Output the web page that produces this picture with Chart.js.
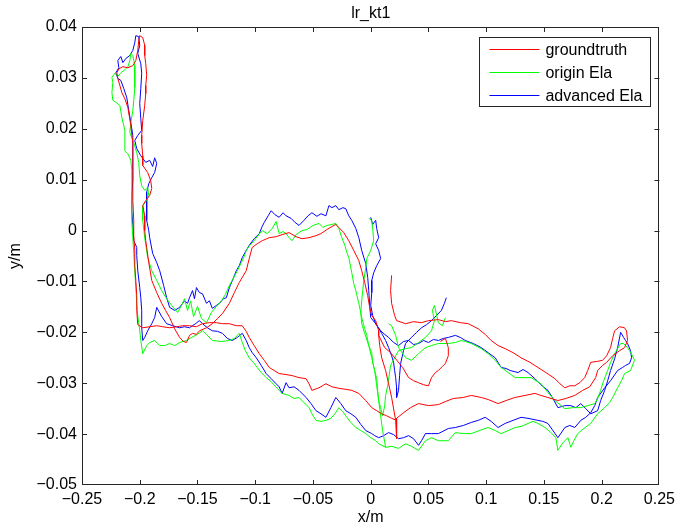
<!DOCTYPE html>
<html><head><meta charset="utf-8">
<script src="https://cdn.jsdelivr.net/npm/chart.js@4/dist/chart.umd.min.js"></script>
<style>html,body{margin:0;padding:0;background:#fff}#wrap{width:680px;height:530px;position:relative}</style>
</head><body><div id="wrap"><canvas id="c" width="680" height="530"></canvas></div>
<script>
const chartTitle = 'lr_kt1';
const xTitle = 'x/m';
const yTitle = 'y/m';
const seriesNames = ['groundtruth', 'origin Ela', 'advanced Ela'];
const seriesColors = ['#ff0000', '#00ff00', '#0000ff'];
const xTicks = [-0.25, -0.2, -0.15, -0.1, -0.05, 0, 0.05, 0.1, 0.15, 0.2, 0.25];
const xTickLabels = ['\u22120.25', '\u22120.2', '\u22120.15', '\u22120.1', '\u22120.05', '0', '0.05', '0.1', '0.15', '0.2', '0.25'];
const yTicks = [-0.05, -0.04, -0.03, -0.02, -0.01, 0, 0.01, 0.02, 0.03, 0.04];
const yTickLabels = ['\u22120.05', '\u22120.04', '\u22120.03', '\u22120.02', '\u22120.01', '0', '0.01', '0.02', '0.03', '0.04'];

// [x, y] pairs in metres; null = pen lifted
const groundtruth = [
[0.0181,-0.0088],[0.0172,-0.0118],[0.0181,-0.0143],[0.0207,-0.0167],[0.0224,-0.0177],[0.0302,-0.0183],[0.0371,-0.0179],[0.0440,-0.0181],[0.0500,-0.0177],[0.0586,-0.0175],[0.0647,-0.0179],[0.0698,-0.0177],[0.0776,-0.0181],[0.0845,-0.0183],[0.0896,-0.0189],[0.0931,-0.0193],[0.0991,-0.0204],[0.1043,-0.0216],[0.1103,-0.0226],[0.1164,-0.0232],[0.1233,-0.0240],[0.1302,-0.0250],[0.1379,-0.0259],[0.1448,-0.0269],[0.1517,-0.0279],[0.1595,-0.0291],[0.1638,-0.0301],[0.1681,-0.0309],[0.1724,-0.0305],[0.1767,-0.0305],[0.1810,-0.0299],[0.1853,-0.0289],[0.1879,-0.0275],[0.1905,-0.0259],[0.1965,-0.0257],[0.2008,-0.0255],[0.2043,-0.0246],[0.2077,-0.0230],[0.2095,-0.0212],[0.2112,-0.0197],[0.2155,-0.0189],[0.2198,-0.0191],[0.2215,-0.0197],[0.2224,-0.0216],[0.2198,-0.0230],[0.2155,-0.0236],[0.2095,-0.0246],[0.2043,-0.0259],[0.2008,-0.0265],[0.1965,-0.0275],[0.1948,-0.0289],[0.1896,-0.0307],[0.1836,-0.0314],[0.1767,-0.0324],[0.1690,-0.0330],[0.1621,-0.0334],[0.1534,-0.0328],[0.1474,-0.0324],[0.1422,-0.0320],[0.1336,-0.0324],[0.1250,-0.0328],[0.1172,-0.0334],[0.1103,-0.0340],[0.1017,-0.0332],[0.0957,-0.0328],[0.0871,-0.0324],[0.0802,-0.0328],[0.0715,-0.0330],[0.0647,-0.0336],[0.0586,-0.0342],[0.0500,-0.0344],[0.0414,-0.0340],[0.0345,-0.0348],[0.0284,-0.0358],[0.0224,-0.0369],[0.0224,-0.0409],[0.0216,-0.0373],[0.0181,-0.0328],[0.0155,-0.0301],[0.0129,-0.0275],[0.0095,-0.0250],[0.0078,-0.0226],[0.0069,-0.0206],[0.0121,-0.0230],[0.0172,-0.0240],[0.0216,-0.0252],[0.0276,-0.0269],[0.0328,-0.0289],[0.0371,-0.0295],[0.0414,-0.0299],[0.0457,-0.0303],[0.0500,-0.0305],[0.0526,-0.0289],[0.0560,-0.0279],[0.0586,-0.0275],[0.0621,-0.0267],[0.0647,-0.0261],[0.0672,-0.0246],[0.0672,-0.0230],[0.0647,-0.0212],[0.0603,-0.0218],
null,
[0.0224,-0.0373],[0.0181,-0.0369],[0.0138,-0.0364],[0.0095,-0.0360],[0.0052,-0.0354],[0.0009,-0.0348],[-0.0043,-0.0334],[-0.0103,-0.0320],[-0.0164,-0.0314],[-0.0216,-0.0312],[-0.0276,-0.0310],[-0.0336,-0.0307],[-0.0388,-0.0301],[-0.0448,-0.0309],[-0.0509,-0.0314],[-0.0534,-0.0301],[-0.0560,-0.0291],[-0.0621,-0.0289],[-0.0681,-0.0285],[-0.0733,-0.0283],[-0.0793,-0.0281],[-0.0836,-0.0275],[-0.0879,-0.0269],[-0.0922,-0.0255],[-0.0965,-0.0242],[-0.1009,-0.0226],[-0.1052,-0.0210],[-0.1078,-0.0198],[-0.1112,-0.0187],[-0.1164,-0.0187],[-0.1224,-0.0183],[-0.1284,-0.0183],[-0.1336,-0.0181],[-0.1396,-0.0181],[-0.1457,-0.0183],[-0.1509,-0.0189],[-0.1569,-0.0187],[-0.1629,-0.0187],[-0.1681,-0.0189],[-0.1741,-0.0191],[-0.1801,-0.0189],[-0.1853,-0.0187],[-0.1914,-0.0189],[-0.1974,-0.0191],[-0.2017,-0.0185],[-0.2026,-0.0157],[-0.2026,-0.0128],[-0.2034,-0.0098],[-0.2043,-0.0069],[-0.2043,-0.0039],[-0.2052,-0.0010],[-0.2052,0.0020],[-0.2060,0.0059],[-0.2060,0.0098],[-0.2060,0.0138],[-0.2060,0.0171],[-0.2077,0.0206],[-0.2103,0.0242],[-0.2129,0.0259],[-0.2155,0.0271],[-0.2172,0.0285],[-0.2190,0.0299],[-0.2198,0.0310],[-0.2181,0.0318],[-0.2146,0.0322],[-0.2103,0.0320],[-0.2060,0.0324],[-0.2034,0.0334],[-0.2017,0.0354],[-0.2009,0.0373],[-0.2000,0.0383],[-0.1974,0.0379],[-0.1957,0.0364],[-0.1957,0.0344],[-0.1948,0.0328],[-0.1940,0.0305],[-0.1948,0.0285],[-0.1948,0.0269],[-0.1957,0.0246],[-0.1974,0.0216],[-0.1983,0.0187],[-0.1983,0.0171],[-0.1974,0.0147],[-0.1974,0.0128],[-0.1931,0.0114],[-0.1905,0.0098],[-0.1896,0.0083],[-0.1914,0.0069],[-0.1948,0.0059],[-0.1974,0.0049],[-0.1957,0.0029],[-0.1957,0.0000],[-0.1948,-0.0020],[-0.1940,-0.0033],[-0.1922,-0.0063],[-0.1896,-0.0098],[-0.1853,-0.0122],[-0.1810,-0.0143],[-0.1776,-0.0157],[-0.1741,-0.0171],[-0.1698,-0.0193],[-0.1655,-0.0210],[-0.1621,-0.0218],[-0.1595,-0.0220],[-0.1569,-0.0206],[-0.1543,-0.0202],[-0.1509,-0.0204],[-0.1483,-0.0197],[-0.1422,-0.0191],[-0.1371,-0.0183],[-0.1327,-0.0173],[-0.1284,-0.0163],[-0.1224,-0.0143],[-0.1181,-0.0122],[-0.1138,-0.0102],[-0.1078,-0.0079],[-0.1052,-0.0055],[-0.1026,-0.0033],[-0.0983,-0.0026],[-0.0940,-0.0020],[-0.0879,-0.0014],[-0.0819,-0.0012],[-0.0767,-0.0008],[-0.0707,-0.0004],[-0.0647,-0.0012],[-0.0595,-0.0016],[-0.0534,-0.0014],[-0.0474,-0.0010],[-0.0431,-0.0006],[-0.0379,0.0002],[-0.0336,0.0008],[-0.0302,0.0012],[-0.0276,0.0006],[-0.0233,-0.0004],[-0.0190,-0.0020],[-0.0147,-0.0039],[-0.0103,-0.0059],[-0.0078,-0.0079],[-0.0052,-0.0102],[-0.0026,-0.0128],[-0.0009,-0.0151],[0.0009,-0.0167],[0.0043,-0.0177],[0.0069,-0.0197],[0.0069,-0.0206]
];

const originEla = [
[-0.0017,0.0024],[0.0009,0.0020],[0.0017,0.0004],[0.0026,-0.0020],[0.0000,-0.0039],[-0.0034,-0.0055],[-0.0043,-0.0073],[-0.0060,-0.0098],[-0.0069,-0.0118],[-0.0078,-0.0138],[-0.0086,-0.0161],[-0.0078,-0.0183],[-0.0052,-0.0202],[-0.0017,-0.0226],[0.0009,-0.0250],[0.0034,-0.0275],[0.0052,-0.0305],[0.0069,-0.0334],[0.0086,-0.0364],[0.0103,-0.0393],[0.0129,-0.0426],[0.0181,-0.0424],[0.0241,-0.0428],[0.0302,-0.0419],[0.0353,-0.0424],[0.0414,-0.0432],[0.0474,-0.0413],[0.0526,-0.0407],[0.0586,-0.0413],[0.0672,-0.0413],[0.0733,-0.0397],[0.0802,-0.0399],[0.0871,-0.0399],[0.0940,-0.0393],[0.1017,-0.0387],[0.1078,-0.0393],[0.1129,-0.0399],[0.1190,-0.0393],[0.1250,-0.0387],[0.1302,-0.0385],[0.1362,-0.0379],[0.1405,-0.0375],[0.1448,-0.0379],[0.1509,-0.0387],[0.1560,-0.0397],[0.1603,-0.0407],[0.1621,-0.0432],[0.1664,-0.0417],[0.1707,-0.0407],[0.1733,-0.0426],[0.1759,-0.0413],[0.1793,-0.0399],[0.1845,-0.0389],[0.1905,-0.0379],[0.1965,-0.0360],[0.2026,-0.0348],[0.2069,-0.0338],[0.2095,-0.0328],[0.2138,-0.0309],[0.2172,-0.0295],[0.2198,-0.0281],[0.2250,-0.0275],[0.2284,-0.0255],[0.2267,-0.0246],[0.2241,-0.0236],[0.2224,-0.0230],[0.2190,-0.0222],[0.2164,-0.0222],[0.2138,-0.0232],[0.2112,-0.0242],[0.2077,-0.0259],[0.2052,-0.0275],[0.2017,-0.0295],[0.1991,-0.0314],[0.1965,-0.0330],[0.1940,-0.0340],[0.1879,-0.0344],[0.1819,-0.0348],[0.1750,-0.0348],[0.1681,-0.0350],[0.1638,-0.0342],[0.1595,-0.0334],[0.1534,-0.0318],[0.1474,-0.0301],[0.1431,-0.0295],[0.1388,-0.0289],[0.1319,-0.0289],[0.1250,-0.0289],[0.1190,-0.0279],[0.1129,-0.0269],[0.1078,-0.0255],[0.1017,-0.0242],[0.0957,-0.0232],[0.0905,-0.0226],[0.0871,-0.0222],[0.0819,-0.0218],[0.0784,-0.0216],[0.0733,-0.0220],[0.0672,-0.0222],[0.0586,-0.0222],[0.0526,-0.0226],[0.0474,-0.0230],[0.0414,-0.0242],[0.0353,-0.0255],[0.0302,-0.0250],[0.0241,-0.0230],[0.0216,-0.0206],[0.0181,-0.0187],[0.0155,-0.0183],
null,
[0.0129,-0.0426],[0.0069,-0.0419],[0.0043,-0.0413],[0.0000,-0.0407],[-0.0043,-0.0399],[-0.0086,-0.0393],[-0.0129,-0.0387],[-0.0172,-0.0377],[-0.0207,-0.0367],[-0.0241,-0.0356],[-0.0276,-0.0348],[-0.0310,-0.0360],[-0.0345,-0.0369],[-0.0388,-0.0373],[-0.0431,-0.0375],[-0.0474,-0.0373],[-0.0509,-0.0360],[-0.0534,-0.0348],[-0.0578,-0.0338],[-0.0621,-0.0328],[-0.0664,-0.0330],[-0.0707,-0.0324],[-0.0767,-0.0320],[-0.0810,-0.0310],[-0.0862,-0.0297],[-0.0905,-0.0289],[-0.0948,-0.0279],[-0.0983,-0.0269],[-0.1017,-0.0259],[-0.1052,-0.0250],[-0.1086,-0.0236],[-0.1112,-0.0220],[-0.1138,-0.0202],[-0.1181,-0.0212],[-0.1224,-0.0216],[-0.1293,-0.0218],[-0.1371,-0.0216],[-0.1422,-0.0204],[-0.1457,-0.0197],[-0.1500,-0.0204],[-0.1552,-0.0210],[-0.1595,-0.0216],[-0.1655,-0.0220],[-0.1698,-0.0226],[-0.1741,-0.0222],[-0.1784,-0.0226],[-0.1827,-0.0226],[-0.1871,-0.0216],[-0.1914,-0.0220],[-0.1940,-0.0226],[-0.1974,-0.0242],[-0.1991,-0.0216],[-0.2000,-0.0197],[-0.2017,-0.0167],[-0.2026,-0.0143],[-0.2034,-0.0112],[-0.2043,-0.0079],[-0.2052,-0.0045],[-0.2060,-0.0014],[-0.2069,0.0020],[-0.2069,0.0053],[-0.2069,0.0088],[-0.2069,0.0118],[-0.2077,0.0138],[-0.2103,0.0151],[-0.2129,0.0157],[-0.2129,0.0177],[-0.2129,0.0197],[-0.2155,0.0222],[-0.2172,0.0246],[-0.2207,0.0252],[-0.2233,0.0256],[-0.2241,0.0271],[-0.2233,0.0291],[-0.2241,0.0301],[-0.2215,0.0309],[-0.2190,0.0303],[-0.2164,0.0310],[-0.2129,0.0316],[-0.2103,0.0322],[-0.2086,0.0334],[-0.2077,0.0348],[-0.2060,0.0344],[-0.2043,0.0324],[-0.2043,0.0305],[-0.2043,0.0281],[-0.2052,0.0255],[-0.2060,0.0236],[-0.2077,0.0212],[-0.2086,0.0193],[-0.2052,0.0173],[-0.2026,0.0153],[-0.2009,0.0134],[-0.2000,0.0108],[-0.1983,0.0088],[-0.1957,0.0079],[-0.1931,0.0084],[-0.1922,0.0069],[-0.1940,0.0059],[-0.1974,0.0049],[-0.1974,0.0020],[-0.1957,-0.0014],[-0.1931,-0.0053],[-0.1896,-0.0079],[-0.1853,-0.0098],[-0.1810,-0.0118],[-0.1767,-0.0134],[-0.1724,-0.0147],[-0.1672,-0.0161],[-0.1638,-0.0147],[-0.1612,-0.0134],[-0.1586,-0.0157],[-0.1560,-0.0138],[-0.1534,-0.0169],[-0.1500,-0.0149],[-0.1465,-0.0173],[-0.1422,-0.0181],[-0.1379,-0.0161],[-0.1336,-0.0149],[-0.1293,-0.0138],[-0.1259,-0.0126],[-0.1224,-0.0108],[-0.1190,-0.0094],[-0.1155,-0.0079],[-0.1121,-0.0063],[-0.1095,-0.0051],[-0.1078,-0.0039],[-0.1043,-0.0028],[-0.1009,-0.0020],[-0.0983,-0.0012],[-0.0940,0.0000],[-0.0896,-0.0006],[-0.0853,0.0004],[-0.0819,0.0018],[-0.0793,-0.0006],[-0.0759,-0.0002],[-0.0733,-0.0006],[-0.0707,-0.0014],[-0.0681,-0.0020],[-0.0647,-0.0008],[-0.0595,0.0000],[-0.0552,0.0002],[-0.0500,0.0010],[-0.0448,0.0014],[-0.0414,0.0006],[-0.0379,0.0010],[-0.0336,0.0012],[-0.0302,0.0014],[-0.0276,0.0004],[-0.0250,-0.0014],[-0.0224,-0.0029],[-0.0207,-0.0043],[-0.0190,-0.0053],[-0.0164,-0.0083],[-0.0147,-0.0104],[-0.0129,-0.0118],[-0.0103,-0.0143],[-0.0078,-0.0171],[-0.0052,-0.0193],[-0.0034,-0.0206],[-0.0017,-0.0226],[0.0009,-0.0240],[0.0017,-0.0259],[0.0034,-0.0275],[0.0052,-0.0291],[0.0060,-0.0314],[0.0069,-0.0334],[0.0086,-0.0348],[0.0103,-0.0364],[0.0121,-0.0344],[0.0129,-0.0324],[0.0147,-0.0305],[0.0172,-0.0265],[0.0207,-0.0250],[0.0241,-0.0236],[0.0302,-0.0232],[0.0353,-0.0230],[0.0414,-0.0220],[0.0474,-0.0210],[0.0526,-0.0197],[0.0552,-0.0177],[0.0534,-0.0157],[0.0552,-0.0147],[0.0586,-0.0181],[0.0621,-0.0187],[0.0647,-0.0171]
];

const advancedEla = [
[0.0000,0.0026],[0.0017,0.0012],[0.0043,0.0020],[0.0052,0.0004],[0.0069,-0.0014],[0.0043,-0.0026],[0.0069,-0.0039],[0.0086,-0.0055],[0.0052,-0.0069],[0.0026,-0.0083],[0.0009,-0.0098],[0.0009,-0.0122],[0.0000,-0.0147],[0.0017,-0.0167],[0.0043,-0.0183],[0.0086,-0.0197],[0.0121,-0.0204],[0.0155,-0.0210],[0.0198,-0.0220],[0.0241,-0.0226],[0.0284,-0.0218],[0.0328,-0.0216],[0.0371,-0.0224],[0.0414,-0.0222],[0.0457,-0.0216],[0.0500,-0.0220],[0.0543,-0.0214],[0.0586,-0.0216],[0.0629,-0.0212],[0.0672,-0.0210],[0.0733,-0.0206],[0.0776,-0.0210],[0.0819,-0.0216],[0.0888,-0.0222],[0.0957,-0.0230],[0.1017,-0.0240],[0.1078,-0.0250],[0.1129,-0.0269],[0.1172,-0.0271],[0.1207,-0.0275],[0.1276,-0.0279],[0.1319,-0.0273],[0.1362,-0.0279],[0.1422,-0.0291],[0.1474,-0.0303],[0.1534,-0.0314],[0.1578,-0.0330],[0.1621,-0.0348],[0.1681,-0.0344],[0.1733,-0.0344],[0.1776,-0.0348],[0.1819,-0.0340],[0.1862,-0.0350],[0.1905,-0.0360],[0.1965,-0.0354],[0.1991,-0.0334],[0.2026,-0.0314],[0.2052,-0.0295],[0.2077,-0.0275],[0.2112,-0.0252],[0.2138,-0.0230],[0.2164,-0.0200],[0.2190,-0.0210],[0.2207,-0.0216],[0.2224,-0.0222],[0.2250,-0.0236],[0.2259,-0.0250],[0.2241,-0.0261],[0.2207,-0.0265],[0.2181,-0.0269],[0.2138,-0.0275],[0.2077,-0.0295],[0.2026,-0.0309],[0.1965,-0.0328],[0.1940,-0.0344],[0.1905,-0.0358],[0.1862,-0.0367],[0.1819,-0.0373],[0.1767,-0.0387],[0.1724,-0.0383],[0.1681,-0.0387],[0.1621,-0.0407],[0.1578,-0.0393],[0.1534,-0.0379],[0.1491,-0.0375],[0.1448,-0.0373],[0.1362,-0.0369],[0.1302,-0.0367],[0.1233,-0.0373],[0.1164,-0.0379],[0.1103,-0.0387],[0.1043,-0.0375],[0.0991,-0.0367],[0.0931,-0.0373],[0.0871,-0.0377],[0.0802,-0.0383],[0.0733,-0.0387],[0.0672,-0.0389],[0.0586,-0.0399],[0.0526,-0.0399],[0.0474,-0.0399],[0.0440,-0.0413],[0.0414,-0.0422],[0.0371,-0.0409],[0.0328,-0.0403],[0.0284,-0.0407],[0.0241,-0.0409],[0.0198,-0.0401],[0.0155,-0.0397],[0.0112,-0.0403],[0.0069,-0.0407],[0.0034,-0.0403],[0.0009,-0.0399],[-0.0043,-0.0393],[-0.0086,-0.0381],[-0.0129,-0.0367],[-0.0172,-0.0360],[-0.0216,-0.0354],[-0.0259,-0.0340],[-0.0302,-0.0328],[-0.0345,-0.0348],[-0.0388,-0.0367],[-0.0431,-0.0360],[-0.0474,-0.0354],[-0.0517,-0.0340],[-0.0560,-0.0328],[-0.0621,-0.0314],[-0.0664,-0.0307],[-0.0707,-0.0309],[-0.0733,-0.0299],[-0.0767,-0.0320],[-0.0793,-0.0307],[-0.0819,-0.0301],[-0.0862,-0.0291],[-0.0905,-0.0281],[-0.0948,-0.0265],[-0.0991,-0.0250],[-0.1026,-0.0240],[-0.1052,-0.0230],[-0.1078,-0.0216],[-0.1112,-0.0202],[-0.1155,-0.0210],[-0.1198,-0.0216],[-0.1241,-0.0212],[-0.1284,-0.0202],[-0.1327,-0.0198],[-0.1371,-0.0197],[-0.1414,-0.0191],[-0.1457,-0.0183],[-0.1483,-0.0177],[-0.1517,-0.0183],[-0.1569,-0.0191],[-0.1612,-0.0189],[-0.1655,-0.0191],[-0.1715,-0.0187],[-0.1767,-0.0183],[-0.1810,-0.0169],[-0.1853,-0.0151],[-0.1871,-0.0171],[-0.1896,-0.0183],[-0.1931,-0.0197],[-0.1957,-0.0210],[-0.1974,-0.0216],[-0.1983,-0.0191],[-0.1983,-0.0157],[-0.1991,-0.0132],[-0.2000,-0.0112],[-0.2017,-0.0079],[-0.2026,-0.0049],[-0.2026,-0.0033],[-0.2052,-0.0020],[-0.2060,0.0010],[-0.2069,0.0039],[-0.2069,0.0069],[-0.2060,0.0098],[-0.2060,0.0128],[-0.2060,0.0157],[-0.2060,0.0187],[-0.2077,0.0212],[-0.2095,0.0236],[-0.2112,0.0261],[-0.2138,0.0279],[-0.2164,0.0295],[-0.2190,0.0299],[-0.2207,0.0310],[-0.2181,0.0320],[-0.2190,0.0334],[-0.2164,0.0342],[-0.2146,0.0330],[-0.2121,0.0338],[-0.2086,0.0344],[-0.2060,0.0354],[-0.2043,0.0369],[-0.2034,0.0383],[-0.2009,0.0381],[-0.2000,0.0364],[-0.2017,0.0348],[-0.1991,0.0328],[-0.1983,0.0309],[-0.1991,0.0279],[-0.2000,0.0250],[-0.1991,0.0220],[-0.1983,0.0197],[-0.2017,0.0187],[-0.2043,0.0177],[-0.2026,0.0161],[-0.1991,0.0147],[-0.1948,0.0134],[-0.1914,0.0138],[-0.1888,0.0126],[-0.1871,0.0143],[-0.1853,0.0132],[-0.1871,0.0114],[-0.1896,0.0104],[-0.1922,0.0092],[-0.1940,0.0075],[-0.1940,0.0049],[-0.1940,0.0020],[-0.1922,0.0000],[-0.1914,-0.0014],[-0.1888,-0.0045],[-0.1853,-0.0063],[-0.1827,-0.0079],[-0.1793,-0.0108],[-0.1767,-0.0132],[-0.1741,-0.0151],[-0.1698,-0.0157],[-0.1655,-0.0151],[-0.1612,-0.0138],[-0.1586,-0.0143],[-0.1569,-0.0132],[-0.1543,-0.0118],[-0.1526,-0.0134],[-0.1509,-0.0112],[-0.1483,-0.0122],[-0.1457,-0.0124],[-0.1422,-0.0143],[-0.1397,-0.0138],[-0.1371,-0.0153],[-0.1336,-0.0147],[-0.1310,-0.0143],[-0.1276,-0.0134],[-0.1250,-0.0132],[-0.1224,-0.0112],[-0.1190,-0.0094],[-0.1164,-0.0079],[-0.1138,-0.0069],[-0.1112,-0.0053],[-0.1078,-0.0039],[-0.1052,-0.0029],[-0.1009,-0.0016],[-0.0965,-0.0006],[-0.0940,0.0008],[-0.0922,0.0016],[-0.0888,0.0029],[-0.0862,0.0039],[-0.0828,0.0031],[-0.0793,0.0026],[-0.0759,0.0035],[-0.0733,0.0029],[-0.0690,0.0024],[-0.0655,0.0016],[-0.0621,0.0010],[-0.0578,0.0020],[-0.0543,0.0029],[-0.0509,0.0035],[-0.0466,0.0028],[-0.0431,0.0033],[-0.0388,0.0029],[-0.0362,0.0049],[-0.0336,0.0045],[-0.0302,0.0049],[-0.0276,0.0041],[-0.0241,0.0045],[-0.0216,0.0043],[-0.0190,0.0029],[-0.0164,0.0020],[-0.0129,0.0004],[-0.0103,-0.0014],[-0.0078,-0.0039],[-0.0043,-0.0065],[-0.0026,-0.0092],[-0.0017,-0.0118],[-0.0009,-0.0147],[0.0000,-0.0171],[0.0043,-0.0183],[0.0095,-0.0202],[0.0129,-0.0216],[0.0155,-0.0230],[0.0181,-0.0246],[0.0198,-0.0259],[0.0207,-0.0275],[0.0216,-0.0289],[0.0224,-0.0309],[0.0224,-0.0328],[0.0241,-0.0314],[0.0250,-0.0285],[0.0259,-0.0261],[0.0284,-0.0236],[0.0302,-0.0222],[0.0353,-0.0210],[0.0397,-0.0200],[0.0440,-0.0191],[0.0483,-0.0185],[0.0526,-0.0177],[0.0569,-0.0167],[0.0612,-0.0157],[0.0638,-0.0143],[0.0655,-0.0132]
];

function toPoints(arr) {
  const out = [];
  let lastX = 0;
  for (const p of arr) {
    if (p === null) { out.push({x: lastX, y: null}); }
    else { out.push({x: p[0], y: p[1]}); lastX = p[0]; }
  }
  return out;
}
const seriesData = [groundtruth, originEla, advancedEla];

const FONT = '"Liberation Sans", Arial, Helvetica, sans-serif';
const AXIS_COLOR = '#262626';

const decorPlugin = {
  id: 'decor',
  afterDraw(chart) {
    const ctx = chart.ctx;
    const a = chart.chartArea;
    const xs = chart.scales.x, ys = chart.scales.y;
    ctx.save();
    ctx.strokeStyle = AXIS_COLOR;
    ctx.lineWidth = 1;
    ctx.strokeRect(Math.round(a.left) + 0.5, Math.round(a.top) + 0.5, Math.round(a.right - a.left) - 1, Math.round(a.bottom - a.top) - 1);
    const tl = 5;
    ctx.beginPath();
    xTicks.forEach(v => {
      const px = Math.round(xs.getPixelForValue(v)) + 0.5;
      if (px <= a.left + 1 || px >= a.right - 1) return;
      ctx.moveTo(px, a.bottom); ctx.lineTo(px, a.bottom - tl);
      ctx.moveTo(px, a.top); ctx.lineTo(px, a.top + tl);
    });
    yTicks.forEach(v => {
      const py = Math.round(ys.getPixelForValue(v)) + 0.5;
      if (py <= a.top + 1 || py >= a.bottom - 1) return;
      ctx.moveTo(a.left, py); ctx.lineTo(a.left + tl, py);
      ctx.moveTo(a.right, py); ctx.lineTo(a.right - tl, py);
    });
    ctx.stroke();

    ctx.fillStyle = '#000';
    ctx.font = '16px ' + FONT;
    ctx.textAlign = 'center';
    ctx.textBaseline = 'middle';
    ctx.fillText(chartTitle, (a.left + a.right) / 2, 14);
    ctx.fillText(xTitle, (a.left + a.right) / 2, 518);
    ctx.save();
    ctx.translate(16, (a.top + a.bottom) / 2);
    ctx.rotate(-Math.PI / 2);
    ctx.fillText(yTitle, 0, 0);
    ctx.restore();

    // legend box
    const bx = a.right - 180, by = a.top + 10, bw = 171, bh = 69;
    ctx.fillStyle = '#fff';
    ctx.fillRect(bx, by, bw, bh);
    ctx.strokeStyle = AXIS_COLOR;
    ctx.strokeRect(Math.round(bx) + 0.5, Math.round(by) + 0.5, bw, bh);
    ctx.textAlign = 'left';
    ctx.font = '16px ' + FONT;
    chart.data.datasets.forEach((ds, i) => {
      const ry = Math.round(by + 12 + i * 23) + 0.5;
      ctx.strokeStyle = ds.borderColor;
      ctx.beginPath();
      ctx.moveTo(bx + 10, ry); ctx.lineTo(bx + 60, ry);
      ctx.stroke();
      ctx.fillStyle = '#000';
      ctx.fillText(ds.label, bx + 66, ry + 1);
    });
    ctx.restore();
  }
};

new Chart(document.getElementById('c'), {
  type: 'scatter',
  data: {
    datasets: seriesData.map((arr, i) => ({
      label: seriesNames[i],
      data: toPoints(arr),
      showLine: true,
      borderColor: seriesColors[i],
      backgroundColor: seriesColors[i],
      borderWidth: 1,
      pointRadius: 0,
      pointHoverRadius: 0,
      tension: 0,
      spanGaps: false
    }))
  },
  options: {
    responsive: false,
    animation: false,
    devicePixelRatio: 1,
    layout: { padding: { top: 27, right: 18, bottom: 0, left: 0 } },
    plugins: { legend: { display: false }, tooltip: { enabled: false }, title: { display: false } },
    scales: {
      x: {
        type: 'linear', min: -0.25, max: 0.25,
        grid: { display: false, drawTicks: false },
        border: { display: false },
        afterBuildTicks: s => { s.ticks = xTicks.map(v => ({ value: v })); },
        afterFit: s => { s.height = 45; },
        ticks: {
          autoSkip: false, maxRotation: 0, padding: 5,
          color: '#000', font: { family: FONT, size: 16 },
          callback: (v, i) => xTickLabels[i]
        }
      },
      y: {
        type: 'linear', min: -0.05, max: 0.04,
        grid: { display: false, drawTicks: false },
        border: { display: false },
        afterBuildTicks: s => { s.ticks = yTicks.map(v => ({ value: v })); },
        afterFit: s => { s.width = 82; },
        ticks: {
          autoSkip: false, padding: 5,
          color: '#000', font: { family: FONT, size: 16 },
          callback: (v, i) => yTickLabels[i]
        }
      }
    }
  },
  plugins: [decorPlugin]
});
</script>
</body></html>
